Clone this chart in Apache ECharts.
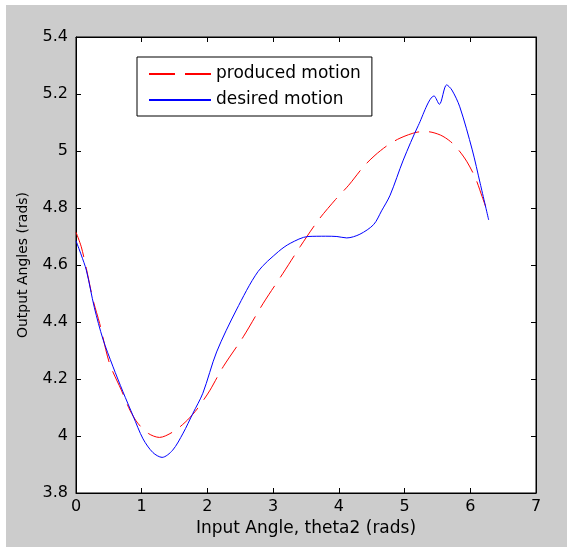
<!DOCTYPE html>
<html>
<head>
<meta charset="utf-8">
<script src="https://cdn.jsdelivr.net/npm/echarts@6/dist/echarts.min.js"></script>
<style>
html,body{margin:0;padding:0;background:#ffffff;width:567px;height:547px;overflow:hidden;}
#chart{position:absolute;left:6px;top:5px;width:561px;height:542px;background:#cccccc;}
</style>
</head>
<body>
<div id="chart"></div>
<script>
// ---- data ----
var seriesNames = ['produced motion', 'desired motion'];
var xTicks = [0, 1, 2, 3, 4, 5, 6, 7];
var yTicks = [3.8, 4, 4.2, 4.4, 4.6, 4.8, 5, 5.2, 5.4];

var producedX = [0.00, 0.08, 0.157, 0.26, 0.36, 0.51, 0.69, 0.82, 0.94, 1.10, 1.27, 1.48, 1.66, 1.81, 1.94, 2.04, 2.24, 2.545, 2.85, 3.15, 3.41, 3.69, 3.95, 4.15, 4.375, 4.55, 4.73, 4.93, 5.19, 5.34, 5.545, 5.70, 5.82, 5.95, 6.08, 6.18, 6.28];
var producedY = [4.715, 4.664, 4.588, 4.477, 4.395, 4.255, 4.161, 4.091, 4.045, 4.009, 3.995, 4.015, 4.048, 4.085, 4.126, 4.161, 4.243, 4.348, 4.466, 4.571, 4.664, 4.758, 4.83, 4.88, 4.945, 4.985, 5.018, 5.045, 5.066, 5.068, 5.056, 5.033, 5.004, 4.962, 4.904, 4.84, 4.775];

var desiredX = [0.00, 0.08, 0.157, 0.28, 0.41, 0.56, 0.715, 0.87, 1.02, 1.17, 1.31, 1.47, 1.63, 1.78, 1.93, 2.14, 2.44, 2.77, 3.08, 3.26, 3.53, 3.80, 3.97, 4.12, 4.32, 4.53, 4.65, 4.78, 4.98, 5.21, 5.45, 5.53, 5.64, 5.72, 5.84, 6.03, 6.15, 6.28];
var desiredY = [4.685, 4.635, 4.582, 4.45, 4.34, 4.245, 4.155, 4.07, 3.99, 3.942, 3.925, 3.95, 4.01, 4.08, 4.15, 4.295, 4.442, 4.577, 4.647, 4.676, 4.700, 4.701, 4.700, 4.695, 4.708, 4.742, 4.79, 4.845, 4.968, 5.09, 5.193, 5.164, 5.232, 5.214, 5.155, 5.004, 4.887, 4.758];

function pairs(xs, ys) {
  var out = [];
  for (var i = 0; i < xs.length; i++) out.push([xs[i], ys[i]]);
  return out;
}

var FONT = 'DejaVu Sans';
var chart = echarts.init(document.getElementById('chart'), null, {renderer: 'canvas'});

var xMin = xTicks[0], xMax = xTicks[xTicks.length - 1];
var yMin = yTicks[0], yMax = yTicks[yTicks.length - 1];

function fmtY(v) {
  var r = Math.round(v * 10) / 10;
  return String(r);
}

var option = {
  animation: false,
  backgroundColor: '#cccccc',
  grid: {
    left: 70, top: 32, width: 460, height: 456,
    show: true, backgroundColor: '#ffffff', borderColor: '#000000', borderWidth: 1
  },
  legend: {
    data: seriesNames,
    orient: 'vertical',
    left: 131, top: 52,
    itemWidth: 62, itemHeight: 14, itemGap: 6,
    padding: [7, 11, 6, 11],
    backgroundColor: '#ffffff',
    borderColor: '#000000', borderWidth: 1, borderRadius: 0,
    itemStyle: {opacity: 0},
    textStyle: {fontFamily: FONT, fontSize: 17, color: '#000000', lineHeight: 20},
    selectedMode: false
  },
  xAxis: [{
    type: 'value', min: xMin, max: xMax, interval: 1,
    position: 'bottom',
    name: 'Input Angle, theta2 (rads)', nameLocation: 'middle', nameGap: 27,
    nameTextStyle: {fontFamily: FONT, fontSize: 17, color: '#000000'},
    axisLine: {show: true, onZero: false, lineStyle: {color: '#000000', width: 1}},
    axisTick: {show: true, inside: true, length: 5, lineStyle: {color: '#000000'}},
    axisLabel: {fontFamily: FONT, fontSize: 16, color: '#000000', margin: 6},
    splitLine: {show: false}
  }, {
    type: 'value', min: xMin, max: xMax, interval: 1,
    position: 'top',
    axisLine: {show: true, onZero: false, lineStyle: {color: '#000000', width: 1}},
    axisTick: {show: true, inside: true, length: 5, lineStyle: {color: '#000000'}},
    axisLabel: {show: false},
    splitLine: {show: false}
  }],
  yAxis: [{
    type: 'value', min: yMin, max: yMax, interval: 0.2,
    position: 'left',
    name: 'Output Angles (rads)', nameLocation: 'middle', nameGap: 46,
    nameTextStyle: {fontFamily: FONT, fontSize: 14, color: '#000000'},
    axisLine: {show: true, onZero: false, lineStyle: {color: '#000000', width: 1}},
    axisTick: {show: true, inside: true, length: 5, lineStyle: {color: '#000000'}},
    axisLabel: {fontFamily: FONT, fontSize: 16, color: '#000000', margin: 8, formatter: fmtY},
    splitLine: {show: false}
  }, {
    type: 'value', min: yMin, max: yMax, interval: 0.2,
    position: 'right',
    axisLine: {show: true, onZero: false, lineStyle: {color: '#000000', width: 1}},
    axisTick: {show: true, inside: true, length: 5, lineStyle: {color: '#000000'}},
    axisLabel: {show: false},
    splitLine: {show: false}
  }],
  series: [{
    name: seriesNames[0],
    type: 'line',
    xAxisIndex: 0, yAxisIndex: 0,
    data: pairs(producedX, producedY),
    symbol: 'none', showSymbol: false,
    smooth: 0.3,
    lineStyle: {color: '#ff0000', width: 1, type: [26, 10]},
    itemStyle: {color: '#ff0000'}
  }, {
    name: seriesNames[1],
    type: 'line',
    xAxisIndex: 0, yAxisIndex: 0,
    data: pairs(desiredX, desiredY),
    symbol: 'none', showSymbol: false,
    smooth: 0.3,
    lineStyle: {color: '#0000ff', width: 1, type: 'solid'},
    itemStyle: {color: '#0000ff'}
  }]
};
chart.setOption(option);
</script>
</body>
</html>
